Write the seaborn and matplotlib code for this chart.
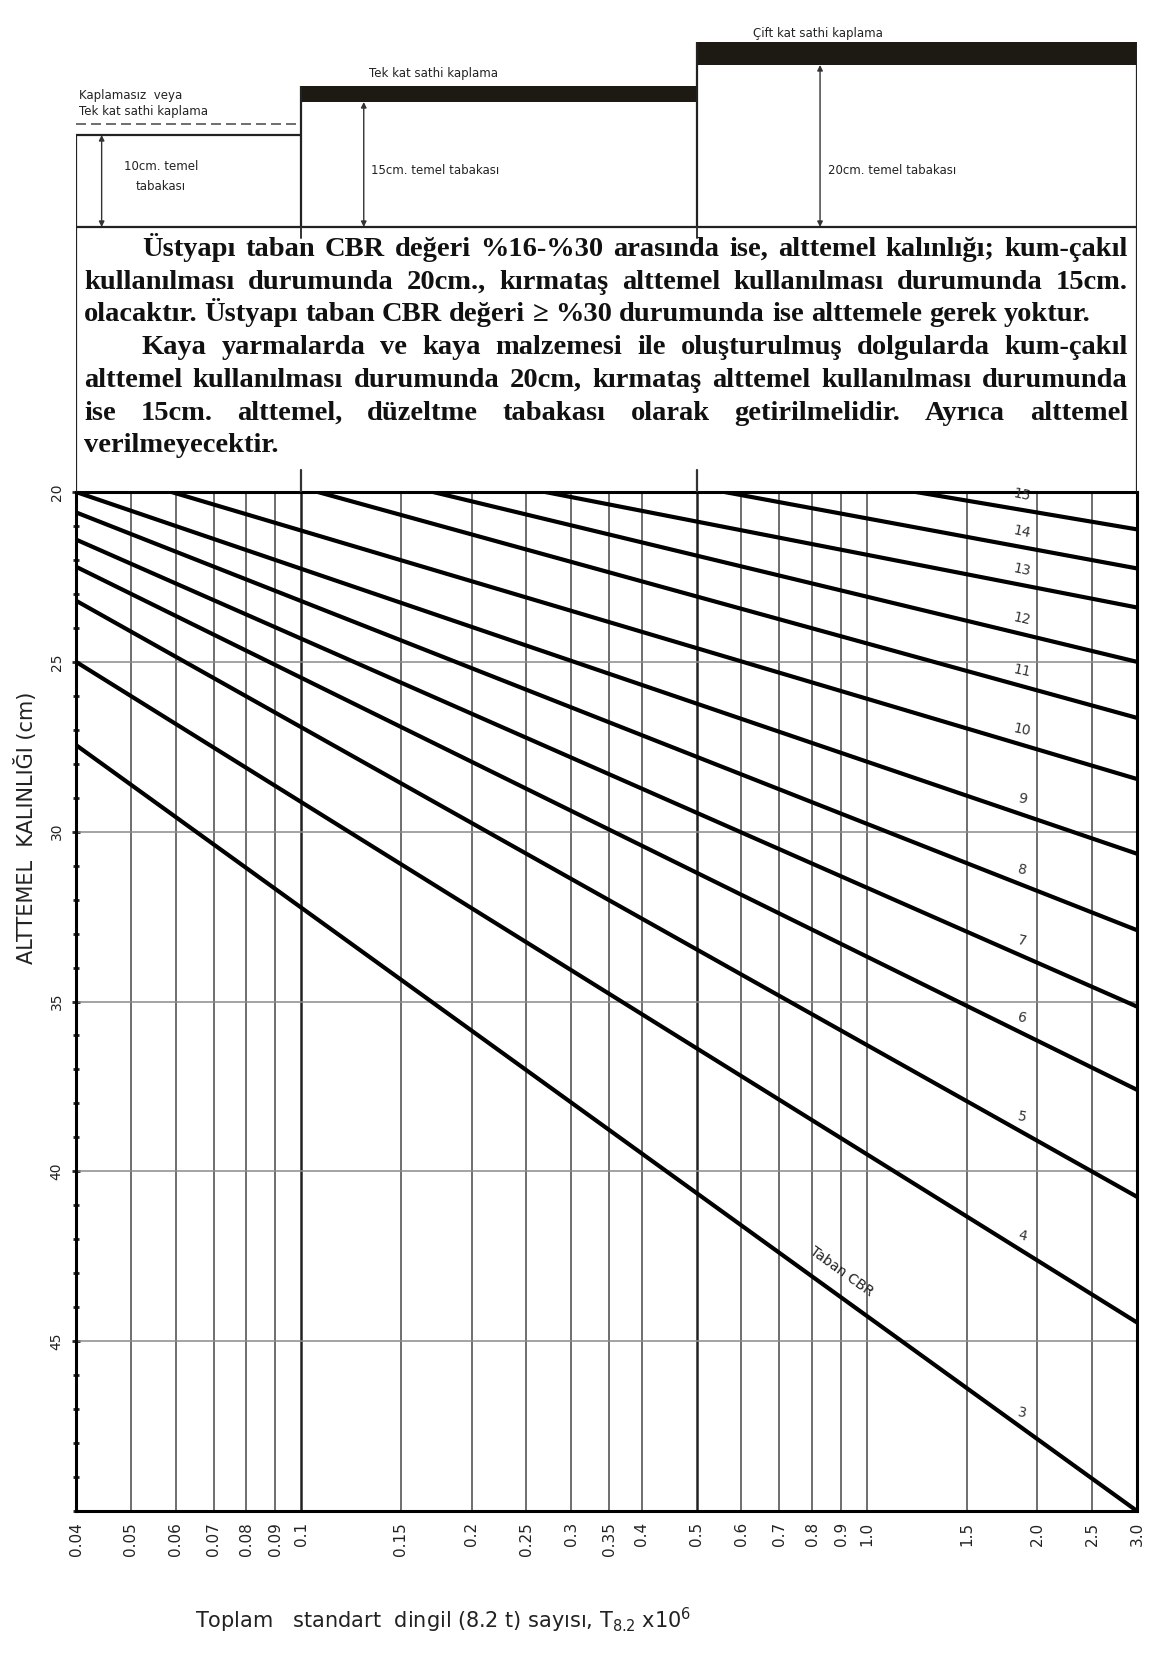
import numpy as np
import pandas as pd
import matplotlib
matplotlib.use('Agg')
import matplotlib.pyplot as plt
import seaborn as sns

sns.set_style('white')
plt.rcParams['font.family'] = ['DejaVu Sans']

# CBR eğrileri: başlangıç ve bitiş noktaları (T x10^6, alttemel kalınlığı cm)
cbr = [15, 14, 13, 12, 11, 10, 9, 8, 7, 6, 5, 4, 3]
t_start = [1.22, 0.56, 0.27, 0.171, 0.107, 0.059, 0.04, 0.04, 0.04, 0.04, 0.04, 0.04, 0.04]
h_start = [20.0, 20.0, 20.0, 20.0, 20.0, 20.0, 20.0, 20.6, 21.4, 22.2, 23.2, 25.0, 27.45]
t_end = [3.0] * 13
h_end = [21.1, 22.25, 23.4, 25.0, 26.65, 28.45, 30.65, 32.9, 35.15, 37.6, 40.75, 44.45, 50.0]

x_ticks = [0.04, 0.05, 0.06, 0.07, 0.08, 0.09, 0.1, 0.15, 0.2, 0.25, 0.3, 0.35, 0.4,
           0.5, 0.6, 0.7, 0.8, 0.9, 1.0, 1.5, 2.0, 2.5, 3.0]
x_tick_labels = ['0.04', '0.05', '0.06', '0.07', '0.08', '0.09', '0.1', '0.15', '0.2',
                 '0.25', '0.3', '0.35', '0.4', '0.5', '0.6', '0.7', '0.8', '0.9', '1.0',
                 '1.5', '2.0', '2.5', '3.0']
y_ticks = [20, 25, 30, 35, 40, 45]

# kaplama tipi bölgeleri (T sınırları)
zone_bounds = [0.04, 0.1, 0.5, 3.0]

paragraph_lines = [
    ("Üstyapı taban CBR değeri %16-%30 arasında ise, alttemel kalınlığı; kum-çakıl", True, True),
    ("kullanılması durumunda 20cm., kırmataş alttemel kullanılması durumunda 15cm.", False, True),
    ("olacaktır. Üstyapı taban CBR değeri ≥ %30 durumunda ise alttemele gerek yoktur.", False, False),
    ("Kaya yarmalarda ve kaya malzemesi ile oluşturulmuş dolgularda kum-çakıl", True, True),
    ("alttemel kullanılması durumunda 20cm, kırmataş alttemel kullanılması durumunda", False, True),
    ("ise 15cm. alttemel, düzeltme tabakası olarak getirilmelidir. Ayrıca alttemel", False, True),
    ("verilmeyecektir.", False, False),
]

df = pd.DataFrame({
    'cbr': np.repeat(cbr, 2),
    'T': np.column_stack([t_start, t_end]).ravel(),
    'h': np.column_stack([h_start, h_end]).ravel(),
})

W, H = 1160, 1654
fig = plt.figure(figsize=(W / 100, H / 100), dpi=100)
fig.patch.set_facecolor('white')

PL, PR, PT, PB = 76, 1137, 492, 1511
ax = fig.add_axes([PL / W, 1 - PB / H, (PR - PL) / W, (PB - PT) / H])
ax.set_xscale('log')
ax.set_xlim(0.04, 3.0)
ax.set_ylim(50, 20)

# ızgara
for v in x_ticks[1:-1]:
    strong = v in (0.1, 0.5)
    ax.axvline(v, color='#222222' if strong else '#555555', lw=1.8 if strong else 1.2, zorder=1)
for v in y_ticks[1:]:
    ax.axhline(v, color='#8a8a8a', lw=1.1, zorder=1)

sns.lineplot(data=df, x='T', y='h', units='cbr', estimator=None, sort=False,
             color='black', linewidth=3.0, ax=ax, legend=False, zorder=3)

ax.set_xticks(x_ticks)
ax.set_xticklabels(x_tick_labels, rotation=90, fontsize=11, color='#222222')
ax.xaxis.set_minor_locator(matplotlib.ticker.NullLocator())
ax.set_yticks(y_ticks)
ax.set_yticklabels([str(v) for v in y_ticks], rotation=90, va='center', fontsize=10, color='#222222')
ax.set_yticks(np.arange(20, 51, 1), minor=True)
ax.tick_params(axis='x', length=0, pad=8)
ax.tick_params(axis='y', which='major', left=True, length=6, width=2, direction='inout',
               pad=6, color='#222222')
ax.tick_params(axis='y', which='minor', left=True, length=5, width=2, direction='inout',
               color='#222222')
ax.set_xlabel('')
ax.set_ylabel('')
for s in ax.spines.values():
    s.set_color('black')
    s.set_linewidth(2.2)

# eğri etiketleri
x_lab = 1.88
for c, ts, hs, te, he in zip(cbr, t_start, h_start, t_end, h_end):
    hv = hs + (he - hs) * np.log(x_lab / ts) / np.log(te / ts)
    ax.text(x_lab, hv - 0.45, str(c), fontsize=10, color='#333333',
            ha='center', va='center', rotation=-12, zorder=4)

# "Taban CBR" yazısı, 3 eğrisi boyunca
i3 = cbr.index(3)
p0 = ax.transData.transform((t_start[i3], h_start[i3]))
p1 = ax.transData.transform((t_end[i3], h_end[i3]))
ang = np.degrees(np.arctan2(p1[1] - p0[1], p1[0] - p0[0]))
xt = 0.9
ht = h_start[i3] + (h_end[i3] - h_start[i3]) * np.log(xt / t_start[i3]) / np.log(t_end[i3] / t_start[i3])
ax.text(xt, ht - 0.75, 'Taban CBR', fontsize=10, color='#222222', rotation=ang,
        rotation_mode='anchor', ha='center', va='center', zorder=4)

# üst kısım: kesit şeması ve açıklama kutusu
top = fig.add_axes([PL / W, 1 - PT / H, (PR - PL) / W, PT / H])
top.set_xscale('log')
top.set_xlim(0.04, 3.0)
top.set_ylim(PT, 0)
top.axis('off')

z0, z1, z2, z3 = zone_bounds
lk = dict(color='#222222', lw=1.6, solid_capstyle='butt')
top.plot([z0, z3], [227, 227], **lk)
top.plot([z0, z0], [135, PT], **lk)
top.plot([z3, z3], [42, PT], **lk)
top.plot([z0, z1], [135, 135], **lk)
top.plot([z0, z1], [124, 124], color='#555555', lw=1.2, ls=(0, (6, 3)))
top.plot([z1, z1], [86, 227], **lk)
top.plot([z2, z2], [42, 227], **lk)
top.fill_between([z1, z2], 86, 102, color='#1c1a12', lw=0)
top.fill_between([z2, z3], 42, 65, color='#1c1a12', lw=0)
# 0.1 ve 0.5 çizgilerinin kutu içine uzanan kısa parçaları
for v in (z1, z2):
    top.plot([v, v], [227, 238], color='#333333', lw=1.4)
    top.plot([v, v], [470, PT], color='#333333', lw=1.6)

arrow = dict(arrowstyle='<|-|>', color='#333333', lw=1.0, mutation_scale=8,
             shrinkA=0, shrinkB=0)
top.annotate('', xy=(0.0444, 135), xytext=(0.0444, 227), arrowprops=arrow)
top.annotate('', xy=(0.129, 102), xytext=(0.129, 227), arrowprops=arrow)
top.annotate('', xy=(0.826, 65), xytext=(0.826, 227), arrowprops=arrow)

small = dict(fontsize=8.5, color='#222222', va='center')
top.text(0.0405, 95, 'Kaplamasız  veya', ha='left', **small)
top.text(0.0405, 112, 'Tek kat sathi kaplama', ha='left', **small)
top.text(0.132, 74, 'Tek kat sathi kaplama', ha='left', **small)
top.text(0.63, 34, 'Çift kat sathi kaplama', ha='left', **small)
top.text(0.0565, 167, '10cm. temel', ha='center', **small)
top.text(0.0565, 187, 'tabakası', ha='center', **small)
top.text(0.133, 171, '15cm. temel tabakası', ha='left', **small)
top.text(0.853, 171, '20cm. temel tabakası', ha='left', **small)

# iki yana yaslı açıklama metni
renderer = fig.canvas.get_renderer()
serif = ['Liberation Serif', 'DejaVu Serif']
fs = 20.5
x_left, x_indent, x_right = 84, 142, 1128
line_y0, line_dy = 256, 32.7
for k, (line, indent, justify) in enumerate(paragraph_lines):
    y = 1 - (line_y0 + k * line_dy) / H
    words = line.split()
    arts = [fig.text(0, y, w, fontsize=fs, family=serif, weight='bold',
                     color='#111111', va='baseline', ha='left') for w in words]
    widths = [a.get_window_extent(renderer).width for a in arts]
    x0 = x_indent if indent else x_left
    if justify and len(words) > 1:
        gap = (x_right - x0 - sum(widths)) / (len(words) - 1)
    else:
        gap = fs * 0.25 * 100 / 72
    x = x0
    for a, w in zip(arts, widths):
        a.set_x(x / W)
        x += w + gap

fig.text(26 / W, 1 - 828 / H, 'ALTTEMEL  KALINLIĞI (cm)', rotation=90, fontsize=15,
         color='#222222', ha='center', va='center')
fig.text(195 / W, 1 - 1628 / H, 'Toplam   standart  dingil (8.2 t) sayısı, T$_{8.2}$ x10$^6$',
         fontsize=15, color='#222222', ha='left', va='baseline')

fig.savefig('out.png', dpi=100, facecolor='white')
